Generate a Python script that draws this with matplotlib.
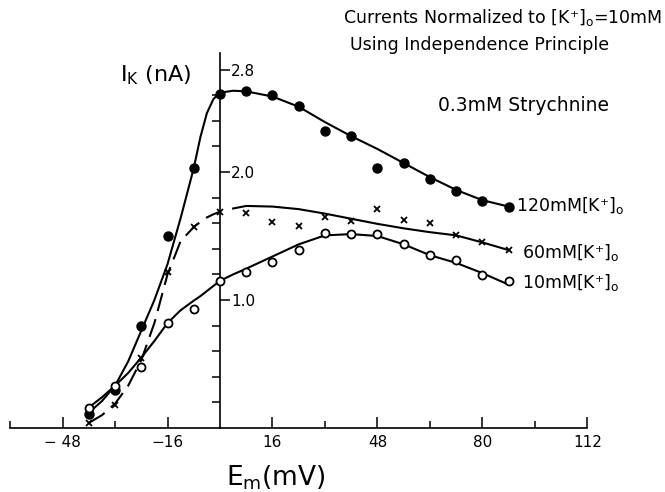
import numpy as np
import matplotlib.pyplot as plt
from matplotlib.ticker import FixedLocator, FixedFormatter

em_mv = [-40, -32, -24, -16, -8, 0, 8, 16, 24, 32, 40, 48, 56, 64, 72, 80, 88]
ik_120 = [0.11, 0.30, 0.80, 1.50, 2.03, 2.61, 2.63, 2.60, 2.515, 2.32, 2.28, 2.03, 2.07, 1.945, 1.855, 1.77, 1.73]
ik_60 = [0.04, 0.18, 0.55, 1.22, 1.57, 1.69, 1.68, 1.61, 1.58, 1.65, 1.62, 1.71, 1.625, 1.605, 1.51, 1.45, 1.39]
ik_10 = [0.155, 0.33, 0.48, 0.82, 0.93, 1.15, 1.22, 1.30, 1.39, 1.525, 1.515, 1.515, 1.435, 1.35, 1.31, 1.195, 1.15]

# hand drawn fitted curves
curve_em = [-40, -36, -32, -28, -24, -20, -16, -12, -8, -6, -4, -2, 0, 4, 8, 16, 24, 32, 40, 48, 56, 64, 72, 80, 88]
fit_120 = [0.12, 0.21, 0.33, 0.52, 0.76, 1.00, 1.28, 1.64, 2.03, 2.27, 2.46, 2.57, 2.62, 2.635, 2.63, 2.59, 2.51, 2.39, 2.28, 2.18, 2.07, 1.96, 1.86, 1.78, 1.73]
fit_60 = [0.04, 0.10, 0.19, 0.33, 0.53, 0.82, 1.20, 1.46, 1.57, 1.61, 1.645, 1.67, 1.69, 1.715, 1.735, 1.73, 1.71, 1.675, 1.635, 1.595, 1.56, 1.53, 1.505, 1.45, 1.39]
fit_10 = [0.16, 0.24, 0.33, 0.43, 0.55, 0.68, 0.82, 0.92, 0.995, 1.03, 1.07, 1.11, 1.15, 1.20, 1.245, 1.34, 1.435, 1.505, 1.515, 1.50, 1.435, 1.35, 1.29, 1.21, 1.12]

x_major = [-48, -16, 16, 48, 80, 112]
x_major_labels = ["\u2212 48", "\u221216", "16", "48", "80", "112"]
x_minor = [-64, -32, 32, 64, 96]
y_major = [1.0, 2.0, 2.8]
y_major_labels = ["1.0", "2.0", "2.8"]
y_minor = [0.2, 0.4, 0.6, 0.8, 1.2, 1.4, 1.6, 1.8, 2.2, 2.4, 2.6]

plt.rcParams['font.family'] = ['DejaVu Sans']
plt.rcParams['mathtext.fontset'] = 'dejavusans'

fig = plt.figure(figsize=(6.65, 4.92), dpi=100)
ax = fig.add_axes([0, 0, 1, 1])
ax.set_xlim(-67.07, 135.67)
ax.set_ylim(-0.5, 3.344)

# axes crossing at the origin
for side in ['top', 'left']:
    ax.spines[side].set_visible(False)
ax.spines['bottom'].set_position(('data', 0))
ax.spines['bottom'].set_bounds(-64, 112)
ax.spines['right'].set_position(('data', 0))
ax.spines['right'].set_bounds(0, 2.93)
for side in ['bottom', 'right']:
    ax.spines[side].set_linewidth(1.2)

ax.xaxis.set_major_locator(FixedLocator(x_major))
ax.xaxis.set_major_formatter(FixedFormatter(x_major_labels))
ax.xaxis.set_minor_locator(FixedLocator(x_minor))
ax.tick_params(axis='x', which='major', direction='in', length=8, width=1.1, labelsize=11, pad=5)
ax.tick_params(axis='x', which='minor', direction='in', length=5, width=1.1)

ax.yaxis.set_ticks_position('right')
ax.yaxis.set_major_locator(FixedLocator(y_major))
ax.yaxis.set_major_formatter(FixedFormatter(y_major_labels))
ax.yaxis.set_minor_locator(FixedLocator(y_minor))
ax.tick_params(axis='y', which='major', direction='out', length=7, width=1.1, labelsize=11, pad=1)
ax.tick_params(axis='y', which='minor', direction='in', length=6, width=1.1)

# fitted curves
cx = np.array(curve_em)
neg = cx <= 0
ax.plot(cx, fit_120, color='black', lw=1.5, zorder=2)
ax.plot(cx, fit_10, color='black', lw=1.5, zorder=2)
ax.plot(cx[neg], np.array(fit_60)[neg], color='black', lw=1.5, dashes=(9, 4), zorder=2)
ax.plot(cx[~neg], np.array(fit_60)[~neg], color='black', lw=1.5, zorder=2)

# data points
ax.plot(em_mv, ik_120, 'o', color='black', ms=6.5, zorder=3)
ax.plot(em_mv, ik_60, 'x', color='black', ms=5, mew=1.3, zorder=3)
ax.plot(em_mv, ik_10, 'o', mfc='white', mec='black', mew=1.3, ms=5.8, zorder=3)

# series labels
ax.text(90.2, 1.742, "120mM[K\u207a]$_\\mathrm{o}$", fontsize=12.5, va='center', ha='left')
ax.text(92.1, 1.375, "60mM[K\u207a]$_\\mathrm{o}$", fontsize=12.5, va='center', ha='left')
ax.text(92.1, 1.133, "10mM[K\u207a]$_\\mathrm{o}$", fontsize=12.5, va='center', ha='left')

# annotations
ax.text(37.5, 3.21, "Currents Normalized to [K\u207a]$_\\mathrm{o}$=10mM", fontsize=12.5,
        va='center', ha='left')
ax.text(39.6, 2.99, "Using Independence Principle", fontsize=12.5, va='center', ha='left')
ax.text(66.5, 2.52, "0.3mM Strychnine", fontsize=13.5, va='center', ha='left')

ax.text(-19.5, 2.76, "I$_\\mathrm{K}$ (nA)", fontsize=16, va='center', ha='center')
ax.text(17.1, -0.39, "E$_\\mathrm{m}$(mV)", fontsize=19, va='center', ha='center')

fig.savefig("out.png", dpi=100, facecolor='white')
